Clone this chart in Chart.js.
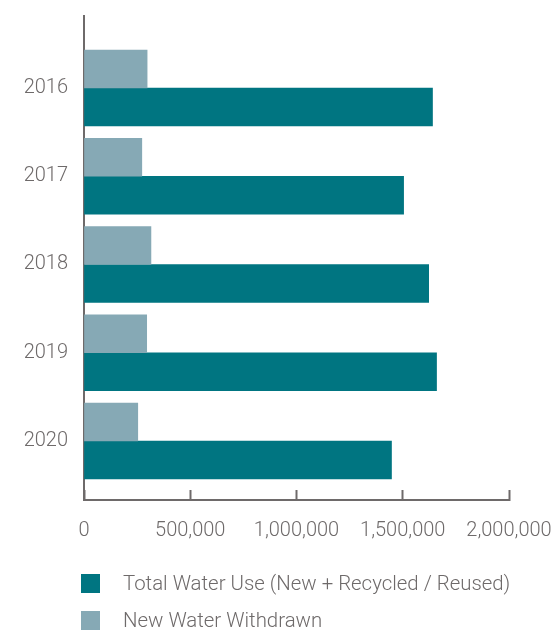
<!DOCTYPE html>
<html>
<head>
<meta charset="utf-8">
<script src="https://cdn.jsdelivr.net/npm/chart.js@4/dist/chart.umd.min.js"></script>
<style>
  html, body { margin: 0; padding: 0; background: #fff; overflow: hidden; }
  #wrap { position: relative; width: 555px; height: 630px; }
  #chart { position: absolute; left: 0; top: 0; }
  .lg-item { position: absolute; left: 81px; height: 19px; display: flex; align-items: center; white-space: nowrap; }
  .lg-box { width: 19px; height: 19px; flex: none; }
  .lg-text { margin-left: 23px; font-family: Roboto, sans-serif; font-weight: 300; font-size: 20.4px; color: #6e6a6a; line-height: 19px; }
</style>
</head>
<body>
<div id="wrap">
  <canvas id="chart" width="555" height="630"></canvas>
  <div id="legend"></div>
</div>
<script>
// ---- data ----
const years = [2016, 2017, 2018, 2019, 2020];
const newWaterWithdrawn = [297000, 272000, 315000, 295000, 253000];
const totalWaterUse = [1640000, 1504000, 1622000, 1659000, 1447000];
const xTicks = [0, 500000, 1000000, 1500000, 2000000];
const seriesNames = ['New Water Withdrawn', 'Total Water Use (New + Recycled / Reused)'];
const seriesColors = ['#86a9b5', '#007581'];
const legendOrder = [1, 0];

const FONT = "Roboto, sans-serif";
const GREY = '#6e6a6a';

const zeroPad = (s) => { s.paddingTop = 0; s.paddingBottom = 0; s.paddingLeft = 0; s.paddingRight = 0; };

const chart = new Chart(document.getElementById('chart'), {
  type: 'bar',
  data: {
    datasets: [
      {
        label: seriesNames[0],
        data: years.map((y, i) => ({ x: newWaterWithdrawn[i], y: y })),
        backgroundColor: seriesColors[0],
        barThickness: 38
      },
      {
        label: seriesNames[1],
        data: years.map((y, i) => ({ x: totalWaterUse[i], y: y })),
        backgroundColor: seriesColors[1],
        barThickness: 38
      }
    ]
  },
  options: {
    indexAxis: 'y',
    responsive: false,
    animation: false,
    locale: 'en-US',
    layout: { padding: { left: 0, right: 46, top: 16, bottom: 70 } },
    plugins: { legend: { display: false }, tooltip: { enabled: false } },
    scales: {
      x: {
        type: 'linear',
        position: 'bottom',
        offset: false,
        min: xTicks[0],
        max: xTicks[xTicks.length - 1],
        afterBuildTicks: (s) => { s.ticks = xTicks.map(v => ({ value: v })); },
        afterFit: (s) => { s.height = 60; zeroPad(s); },
        ticks: {
          color: GREY,
          font: { family: FONT, size: 20, weight: 300 },
          padding: 29,
          maxRotation: 0,
          autoSkip: false,
          callback: (v) => Number(v).toLocaleString('en-US')
        },
        grid: {
          display: true,
          offset: false,
          drawOnChartArea: false,
          drawTicks: true,
          tickLength: -10,
          tickColor: GREY,
          tickWidth: 2
        },
        border: { display: true, color: GREY, width: 2 }
      },
      y: {
        type: 'linear',
        position: 'left',
        offset: false,
        reverse: true,
        min: 2015.184,
        max: 2020.669,
        afterBuildTicks: (s) => { s.ticks = years.map(v => ({ value: v })); },
        afterFit: (s) => { s.width = 84; zeroPad(s); },
        ticks: {
          color: GREY,
          font: { family: FONT, size: 20, weight: 300 },
          padding: 16,
          autoSkip: false,
          callback: (v) => String(v)
        },
        grid: { display: false, offset: false, drawTicks: false },
        border: { display: true, color: GREY, width: 2 }
      }
    }
  }
});

// ---- legend (HTML, built from the chart's datasets) ----
const legendEl = document.getElementById('legend');
const legendTops = [574, 611];
legendOrder.forEach((di, row) => {
  const ds = chart.data.datasets[di];
  const item = document.createElement('div');
  item.className = 'lg-item';
  item.style.top = legendTops[row] + 'px';
  const box = document.createElement('span');
  box.className = 'lg-box';
  box.style.background = ds.backgroundColor;
  const txt = document.createElement('span');
  txt.className = 'lg-text';
  txt.textContent = ds.label;
  item.appendChild(box);
  item.appendChild(txt);
  legendEl.appendChild(item);
});
</script>
</body>
</html>
